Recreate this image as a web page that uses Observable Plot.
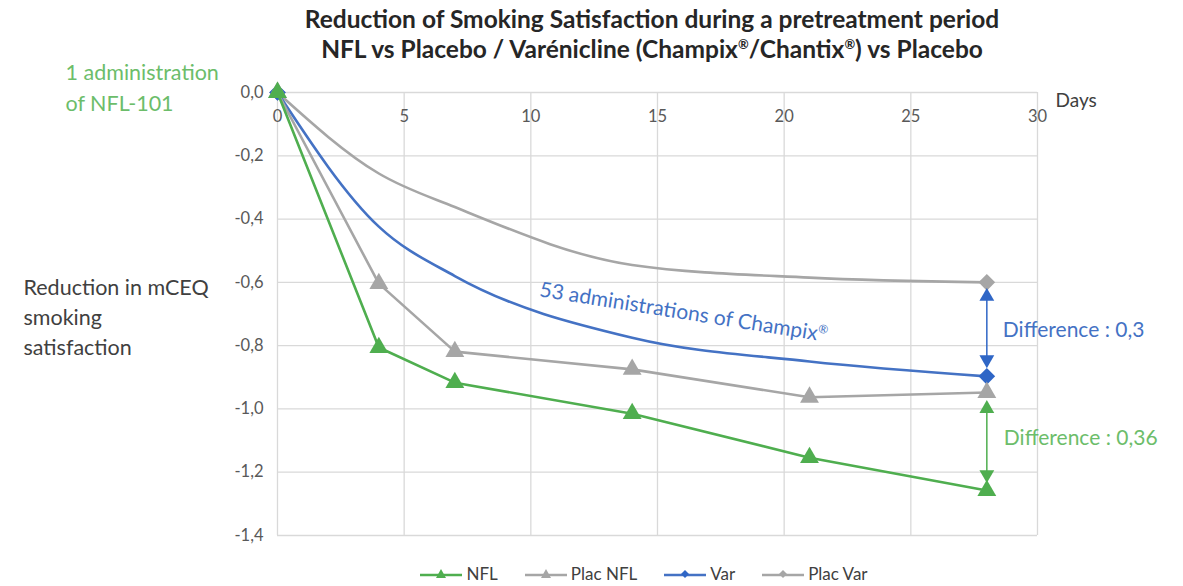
<!DOCTYPE html>
<html>
<head>
<meta charset="utf-8">
<script src="https://cdn.jsdelivr.net/npm/d3@7"></script>
<script src="https://cdn.jsdelivr.net/npm/@observablehq/plot@0.6"></script>
<style>
  html, body { margin: 0; padding: 0; background: #fff; }
  body { width: 1183px; height: 586px; overflow: hidden; font-family: Lato, "Open Sans", sans-serif; }
  #title { height: 56px; position: relative; }
  #title div { position: absolute; left: 0; width: 1304px; text-align: center; font-weight: bold; font-size: 24.5px; color: #262626; white-space: nowrap; line-height: 28px; }
  #title sup { font-size: 13px; vertical-align: 9px; line-height: 0; }
  #chart svg { display: block; overflow: visible; }
  #legend { display: flex; justify-content: center; align-items: center; gap: 26px; margin-left: 104px; margin-top: 18px; font-size: 17px; color: #404040; }
  #legend .item { display: flex; align-items: center; gap: 3px; }
</style>
</head>
<body>
<div id="title"><div style="top:5px">Reduction of Smoking Satisfaction during a pretreatment period</div><div style="top:35px">NFL vs Placebo / Varénicline (Champix<sup>®</sup>/Chantix<sup>®</sup>) vs Placebo</div></div>
<div id="chart"></div>
<div id="legend"></div>
<script>
// ---- data ----
const days = [0, 4, 7, 14, 21, 28];
const nfl = [0, -0.806, -0.917, -1.015, -1.154, -1.258];
const placNfl = [0, -0.604, -0.819, -0.875, -0.963, -0.948];
const varen = [0, -0.424, -0.58, -0.775, -0.85, -0.897];
const placVar = [0, -0.256, -0.362, -0.545, -0.585, -0.60];
const seriesNames = ["NFL", "Plac NFL", "Var", "Plac Var"];
const xTicks = [0, 5, 10, 15, 20, 25, 30];
const yTicks = [0, -0.2, -0.4, -0.6, -0.8, -1.0, -1.2, -1.4];
const diffVar = {day: 28, from: -0.626, to: -0.863, label: "Difference : 0,3", at: -0.752};
const diffNfl = {day: 28, from: -0.98, to: -1.226, label: "Difference : 0,36", at: -1.094};

const GREEN = "#4fae4f", GRAY = "#a6a6a6", BLUE = "#4472c4", BLUE_MK = "#2f66c6", GREEN_TXT = "#6cbd6a";
const styles = {
  "NFL": {color: GREEN, symbol: "triangle", curve: "linear", all: true},
  "Plac NFL": {color: GRAY, symbol: "triangle", curve: "linear", all: true},
  "Var": {color: BLUE, mk: BLUE_MK, symbol: "diamond2", curve: "monotone-x", all: false},
  "Plac Var": {color: GRAY, symbol: "diamond2", curve: "monotone-x", all: false}
};
const values = {"NFL": nfl, "Plac NFL": placNfl, "Var": varen, "Plac Var": placVar};
const rows = seriesNames.map(s => days.map((d, i) => ({series: s, day: d, v: values[s][i]})));

const fmt = d => (Math.abs(d) < 1e-9 ? "0,0" : d.toFixed(1).replace(".", ","));

const marks = [
  Plot.ruleX(xTicks, {stroke: "#d9d9d9", strokeWidth: 1.3}),
  Plot.ruleY(yTicks, {stroke: "#d9d9d9", strokeWidth: 1.3}),
  Plot.axisY(yTicks, {tickSize: 0, tickPadding: 14, tickFormat: fmt, fontSize: 16.5, fill: "#595959", label: null}),
  Plot.text(xTicks, {x: d => d, y: 0, dy: 24, text: d => String(d), fontSize: 16.5, fill: "#595959"}),
  Plot.text(["Days"], {x: 30, y: 0, dx: 18, dy: 8, text: d => d, textAnchor: "start", fontSize: 19, fill: "#404040"}),
];
// draw back to front: Plac Var, Var, Plac NFL, NFL
for (const s of ["Plac Var", "Var", "Plac NFL", "NFL"]) {
  const st = styles[s];
  const data = rows[seriesNames.indexOf(s)];
  marks.push(Plot.line(data, {x: "day", y: "v", stroke: st.color, strokeWidth: 2.6, curve: st.curve}));
  const mdata = st.all ? data : [data[0], data[data.length - 1]];
  marks.push(Plot.dot(mdata, {x: "day", y: "v", symbol: st.symbol, fill: st.mk || st.color, r: st.symbol === "triangle" ? 7 : 7.5, stroke: null}));
}
// difference arrows
for (const [d, c] of [[diffVar, BLUE_MK], [diffNfl, GREEN]]) {
  marks.push(Plot.link([d], {x1: "day", x2: "day", y1: "from", y2: "to", stroke: c, strokeWidth: 1.5}));
  marks.push(Plot.dot([d], {x: "day", y: "from", dy: 6, symbol: "triangle", r: 5.5, fill: c, stroke: null}));
  marks.push(Plot.dot([d], {x: "day", y: "to", dy: -6, symbol: "triangle", rotate: 180, r: 5.5, fill: c, stroke: null}));
}
marks.push(Plot.text([diffVar], {x: "day", y: "at", dx: 16, text: "label", textAnchor: "start", fontSize: 21, fill: BLUE}));
marks.push(Plot.text([diffNfl], {x: "day", y: "at", dx: 17, text: "label", textAnchor: "start", fontSize: 21, fill: GREEN_TXT}));
marks.push(Plot.text(["53 administrations of Champix®"], {x: 16.03, y: -0.695, text: d => d, rotate: 9, fontSize: 21, fill: BLUE, className: "champix"}));
marks.push(Plot.text(["1 administration\nof NFL-101"], {frameAnchor: "top-left", dx: -212, dy: -7, text: d => d, textAnchor: "start", lineAnchor: "middle", lineHeight: 1.45, fontSize: 21.5, fill: GREEN_TXT}));
marks.push(Plot.text(["Reduction in mCEQ\nsmoking\nsatisfaction"], {frameAnchor: "left", dx: -254, dy: 1, text: d => d, textAnchor: "start", lineAnchor: "middle", lineHeight: 1.4, fontSize: 21.5, fill: "#404040"}));

const chart = Plot.plot({
  width: 1183,
  height: 36 + 443 + 10,
  marginTop: 36,
  marginBottom: 10,
  marginLeft: 277,
  marginRight: 146,
  x: {domain: [0, 30], axis: null},
  y: {domain: [-1.4, 0], axis: null},
  style: {fontFamily: "Lato, 'Open Sans', sans-serif", background: "#fff"},
  marks
});
document.getElementById("chart").appendChild(chart);

// make the ® in the curve label a small superscript, as in the reference
d3.select(chart).selectAll("g.champix text").each(function () {
  const t = d3.select(this);
  const txt = t.text();
  if (txt.endsWith("®")) {
    t.text(txt.slice(0, -1));
    t.append("tspan").attr("font-size", 12).attr("dy", -8).text("®");
  }
});

// legend
const leg = document.getElementById("legend");
for (const s of seriesNames) {
  const st = styles[s];
  const item = document.createElement("div");
  item.className = "item";
  const sym = st.symbol === "triangle"
    ? `<path d="M22,2 L27,11 L17,11 Z" fill="${st.mk || st.color}"/>`
    : `<path d="M22,3 L26,7 L22,11 L18,7 Z" fill="${st.mk || st.color}"/>`;
  item.innerHTML = `<svg width="44" height="14"><line x1="1" x2="43" y1="8" y2="8" stroke="${st.color}" stroke-width="2.5"/>${sym}</svg><span>${s}</span>`;
  leg.appendChild(item);
}
</script>
</body>
</html>
